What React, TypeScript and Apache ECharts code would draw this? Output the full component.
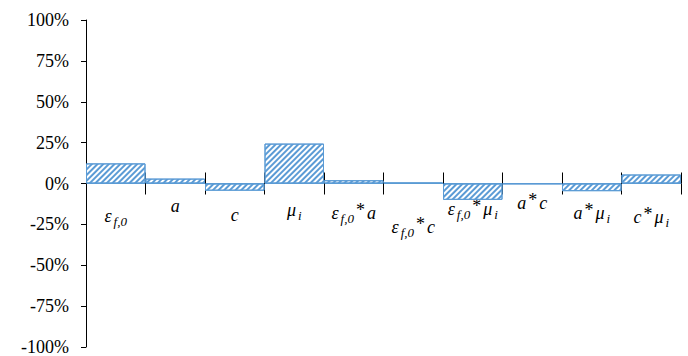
import React, { useEffect, useRef } from 'react';
import * as echarts from 'echarts';

const categories = ['eps_f0', 'a', 'c', 'mu_i', 'eps_f0*a', 'eps_f0*c', 'eps_f0*mu_i', 'a*c', 'a*mu_i', 'c*mu_i'];
const categoryLabels = [
  '{m|ε}{s|f,0}',
  '{m|a}',
  '{m|c}',
  '{m|μ}{s|i}',
  '{m|ε}{s|f,0}{o|*}{m|a}',
  '{m|ε}{s|f,0}{o|*}{m|c}',
  '{m|ε}{s|f,0}{o|*}{m|μ}{s|i}',
  '{m|a}{o|*}{m|c}',
  '{m|a}{o|*}{m|μ}{s|i}',
  '{m|c}{o|*}{m|μ}{s|i}',
];
const labelOffsets = [20, 10, 19, 14, 17, 31, 13, 7, 17, 21];
const values = [12.3, 3, -4.4, 24.4, 2, 0.5, -10, -0.3, -4.7, 5.5];
const yMin = -100;
const yMax = 100;
const yInterval = 25;

const SERIF = "'Liberation Serif', 'Times New Roman', serif";

const H = 356;
const GRID_TOP = 20;
const GRID_BOTTOM = 9;

export default function App() {
  const ref = useRef<HTMLDivElement>(null);
  useEffect(() => {
    document.body.style.margin = '0';
    const chart = echarts.init(ref.current!, undefined, { renderer: 'svg' });
    const blue = '#5B9BD5';
    const plotH = H - GRID_TOP - GRID_BOTTOM;
    const zeroY = GRID_TOP + plotH * (yMax / (yMax - yMin));
    const xData = categories.map((c, i) => ({
      value: c,
      textStyle: { padding: [labelOffsets[i], 0, 0, 0] },
    }));
    chart.setOption({
      animation: false,
      grid: [
        { left: 86, right: 7, top: GRID_TOP, bottom: GRID_BOTTOM, outerBoundsMode: 'none', containLabel: false },
        { left: 86, right: 7, top: GRID_TOP, bottom: H - zeroY, outerBoundsMode: 'none', containLabel: false },
      ],
      xAxis: [
        {
          type: 'category',
          gridIndex: 0,
          data: categories,
          position: 'bottom',
          axisLine: { show: true, onZero: true, lineStyle: { color: blue, width: 1 } },
          axisTick: { show: true, inside: false, interval: 0, length: 11, lineStyle: { color: '#000', width: 1 } },
          axisLabel: { show: false },
          splitLine: { show: false },
        },
        {
          type: 'category',
          gridIndex: 1,
          data: xData,
          position: 'bottom',
          axisLine: { show: false, onZero: false },
          axisTick: { show: true, inside: true, interval: 0, length: 11, lineStyle: { color: '#000', width: 1 } },
          axisLabel: {
            interval: 0,
            margin: 0,
            verticalAlign: 'top',
            hideOverlap: false,
            formatter: (_v: string, i: number) => categoryLabels[i],
            rich: {
              m: { fontFamily: SERIF, fontStyle: 'italic', fontSize: 18, lineHeight: 24, color: '#000', padding: [0, 1, 0, 1] },
              s: { fontFamily: SERIF, fontStyle: 'italic', fontSize: 13, lineHeight: 12, color: '#000', verticalAlign: 'bottom', padding: [0, 1, 0, 1] },
              o: { fontFamily: SERIF, fontSize: 18, lineHeight: 18, color: '#000', verticalAlign: 'top', padding: [0, 1, 0, 1] },
            },
          },
          splitLine: { show: false },
        },
      ],
      yAxis: [
        {
          type: 'value',
          gridIndex: 0,
          min: yMin,
          max: yMax,
          interval: yInterval,
          axisLine: { show: true, onZero: false, lineStyle: { color: '#000', width: 1 } },
          axisTick: { show: true, inside: false, length: 5, lineStyle: { color: '#000' } },
          splitLine: { show: false },
          axisLabel: {
            margin: 17,
            formatter: '{value}%',
            fontFamily: SERIF,
            fontSize: 18,
            color: '#000',
          },
        },
        {
          type: 'value',
          gridIndex: 1,
          show: false,
          min: 0,
          max: 1,
          splitLine: { show: false },
        },
      ],
      series: [
        {
          type: 'bar',
          xAxisIndex: 0,
          yAxisIndex: 0,
          data: values,
          barCategoryGap: '0%',
          itemStyle: {
            color: '#fff',
            borderColor: blue,
            borderWidth: 1,
            decal: {
              symbol: 'rect',
              symbolSize: 1,
              dashArrayX: [1, 0],
              dashArrayY: [2, 1.6],
              rotation: -Math.PI / 4,
              color: blue,
              backgroundColor: '#fff',
            },
          },
        },
      ],
    });
    return () => chart.dispose();
  }, []);
  return <div ref={ref} style={{ width: 688, height: 356 }} />;
}
